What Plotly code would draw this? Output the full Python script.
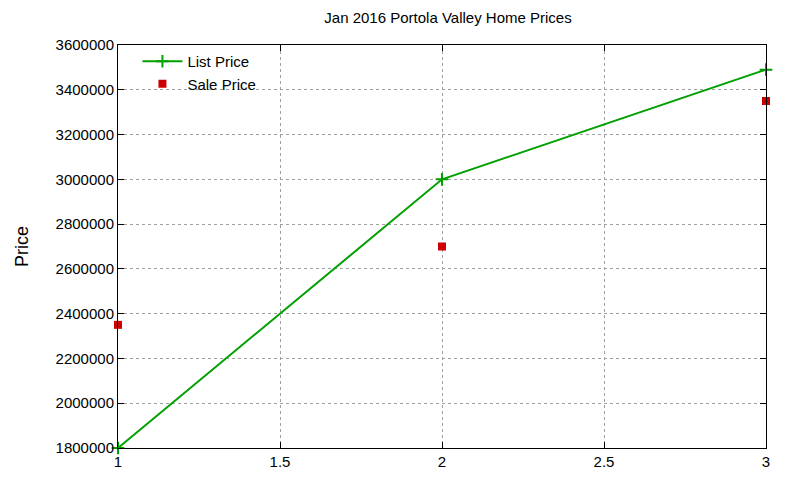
import plotly.graph_objects as go

months = [1, 2, 3]
list_price = [1800000, 3000000, 3490000]
sale_price = [2350000, 2700000, 3350000]

fig = go.Figure()
fig.add_trace(go.Scatter(
    x=months, y=list_price, mode="lines+markers", name="List Price",
    line=dict(color="#00a000", width=2),
    marker=dict(symbol="cross-thin", size=9, line=dict(color="#00a000", width=2)),
    cliponaxis=False,
))
fig.add_trace(go.Scatter(
    x=months, y=sale_price, mode="markers", name="Sale Price",
    marker=dict(symbol="square", size=8, color="#cc0000"),
    cliponaxis=False,
))

axis_style = dict(
    showline=True, linecolor="black", linewidth=1, mirror="ticks",
    ticks="inside", ticklen=6, tickcolor="black",
    showgrid=True, gridcolor="#a0a0a0", griddash="dot", gridwidth=1,
    zeroline=False, tickfont=dict(size=15, color="black"),
)

fig.update_layout(
    width=800, height=480,
    paper_bgcolor="white", plot_bgcolor="white",
    font=dict(family="Liberation Sans, Arial, sans-serif", size=15, color="black"),
    title=dict(text="Jan 2016 Portola Valley Home Prices", x=0.55, y=0.99,
               xanchor="center", yanchor="top", font=dict(size=15)),
    margin=dict(l=110, r=42, t=37, b=40),
    xaxis=dict(range=[1, 3], dtick=0.5, **axis_style),
    yaxis=dict(range=[1800000, 3600000], dtick=200000, tickformat="d",
               title=dict(text="Price", standoff=22), **axis_style),
    legend=dict(x=0.03, y=1.0, xanchor="left", yanchor="top",
                bgcolor="rgba(0,0,0,0)", font=dict(size=15),
                itemwidth=40, tracegroupgap=0),
    showlegend=True,
)

fig.write_html("out.html")
